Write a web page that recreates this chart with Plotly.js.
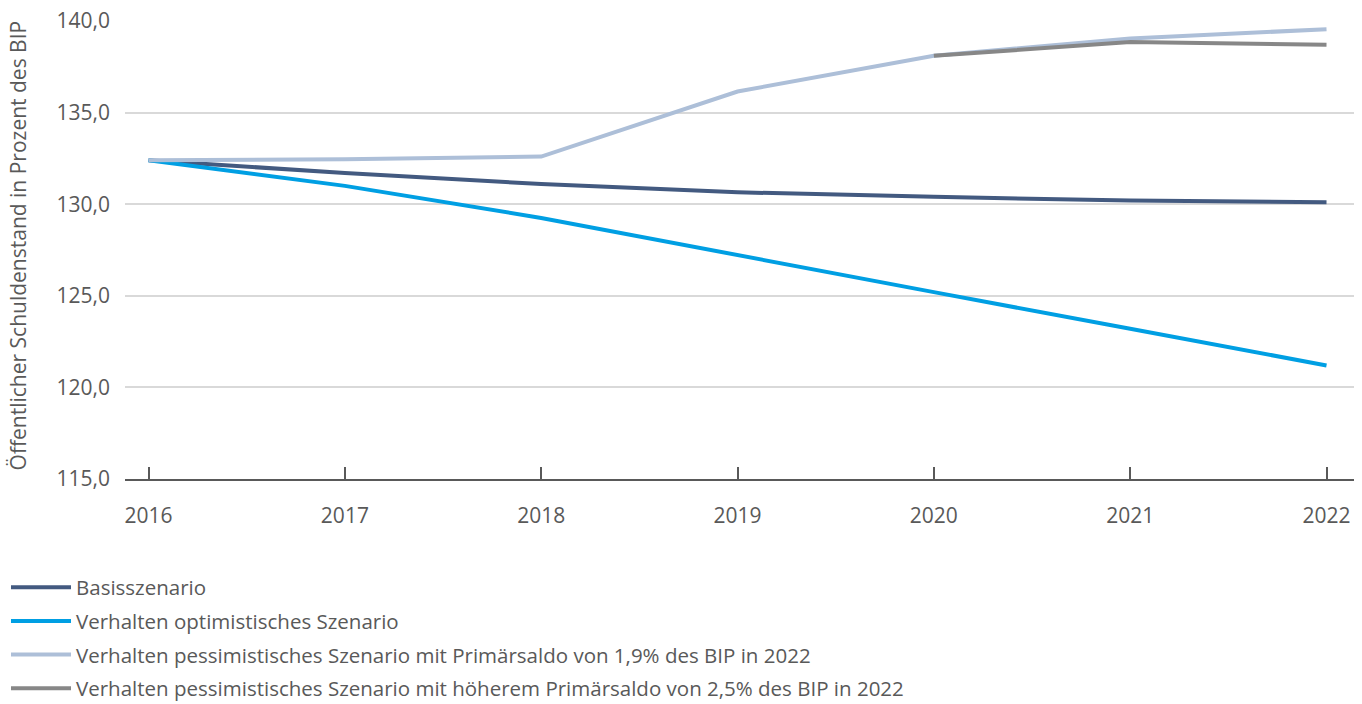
<!DOCTYPE html>
<html><head><meta charset="utf-8">
<script src="https://cdn.plot.ly/plotly-3.0.1.min.js"></script>
<style>html,body{margin:0;padding:0;background:#fff}#chart{width:1362px;height:704px}</style>
</head><body><div id="chart"></div>
<script>
const years = [2016, 2017, 2018, 2019, 2020, 2021, 2022];
const basis = [132.4, 131.7, 131.1, 130.65, 130.4, 130.2, 130.1];
const optimistisch = [132.4, 131.0, 129.25, 127.2, 125.2, 123.2, 121.2];
const pessimistisch19 = [132.4, 132.45, 132.6, 136.15, 138.1, 139.05, 139.55];
const years2 = [2020, 2021, 2022];
const pessimistisch25 = [138.1, 138.85, 138.7];
const names = [
  'Basisszenario',
  'Verhalten optimistisches Szenario',
  'Verhalten pessimistisches Szenario mit Primärsaldo von 1,9% des BIP in 2022',
  'Verhalten pessimistisches Szenario mit höherem Primärsaldo von 2,5% des BIP in 2022'
];
const colors = ['#435a80', '#009fe3', '#adbfd8', '#878787'];

const traces = [
  {x: years, y: basis, name: names[0], line: {color: colors[0], width: 4}},
  {x: years, y: optimistisch, name: names[1], line: {color: colors[1], width: 4}},
  {x: years, y: pessimistisch19, name: names[2], line: {color: colors[2], width: 4}},
  {x: years2, y: pessimistisch25, name: names[3], line: {color: colors[3], width: 4}}
].map((t, i) => Object.assign({type: 'scatter', mode: 'lines', legendgroup: 'g' + i}, t));

const font = {family: 'Open Sans, sans-serif', size: 21, color: '#595959'};
const legFont = {family: 'Open Sans, sans-serif', size: 20.5, color: '#595959'};
const layout = {
  width: 1362, height: 704,
  margin: {l: 125, r: 8, t: 21, b: 225, autoexpand: false},
  paper_bgcolor: '#fff', plot_bgcolor: '#fff',
  font: font,
  showlegend: true,
  legend: {
    orientation: 'v', xref: 'container', yref: 'container',
    x: 0.0044, y: 0.194, xanchor: 'left', yanchor: 'top',
    font: legFont, tracegroupgap: 4, itemwidth: 60
  },
  xaxis: {
    range: [2015.88, 2022.14],
    tickvals: years, ticktext: years.map(String),
    ticks: 'inside', ticklen: 12, tickwidth: 2, tickcolor: '#595959',
    showline: true, linecolor: '#595959', linewidth: 2,
    showgrid: false, zeroline: false,
    ticklabelstandoff: 17,
    tickfont: font
  },
  yaxis: {
    range: [115, 140],
    tickvals: [115, 120, 125, 130, 135, 140],
    ticktext: ['115,0', '120,0', '125,0', '130,0', '135,0', '140,0'],
    showgrid: true, gridcolor: '#d9d9d9', gridwidth: 1.5,
    zeroline: false, showline: false, ticks: '',
    ticklabelstandoff: 14,
    tickfont: font
  },
  annotations: [{
    text: 'Öffentlicher Schuldenstand in Prozent des BIP',
    xref: 'paper', yref: 'paper', x: -107 / 1229, y: 0.51,
    xanchor: 'center', yanchor: 'middle', textangle: -90,
    showarrow: false, font: font
  }]
};
Plotly.newPlot('chart', traces, layout, {displayModeBar: false});
</script></body></html>
